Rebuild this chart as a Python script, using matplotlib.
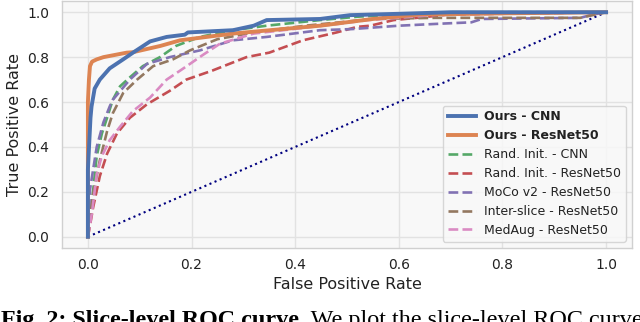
import matplotlib
matplotlib.use("Agg")
import matplotlib.pyplot as plt

# ---- data ----
labels = ["Ours - CNN", "Ours - ResNet50", "Rand. Init. - CNN", "Rand. Init. - ResNet50",
          "MoCo v2 - ResNet50", "Inter-slice - ResNet50", "MedAug - ResNet50"]

ours_cnn_fpr = [0, 0.0, 0.005, 0.007, 0.013, 0.023, 0.042, 0.068, 0.087, 0.12, 0.152, 0.187, 0.193, 0.28, 0.32, 0.345, 0.448, 0.506, 0.6, 0.7, 1.0]
ours_cnn_tpr = [0, 0.30, 0.53, 0.58, 0.66, 0.70, 0.75, 0.79, 0.82, 0.87, 0.89, 0.90, 0.91, 0.92, 0.94, 0.965, 0.97, 0.987, 0.993, 1.0, 1.0]

ours_r50_fpr = [0, 0.0, 0.002, 0.004, 0.008, 0.017, 0.03, 0.075, 0.087, 0.14, 0.178, 0.28, 0.448, 0.55, 0.64, 0.8, 1.0]
ours_r50_tpr = [0, 0.60, 0.70, 0.76, 0.78, 0.79, 0.80, 0.82, 0.822, 0.85, 0.875, 0.905, 0.94, 0.97, 0.99, 0.995, 1.0]

rand_cnn_fpr = [0, 0.003, 0.008, 0.017, 0.027, 0.037, 0.048, 0.062, 0.081, 0.106, 0.139, 0.17, 0.216, 0.28, 0.345, 0.448, 0.52, 0.6, 0.7, 1.0]
rand_cnn_tpr = [0, 0.06, 0.16, 0.36, 0.46, 0.53, 0.61, 0.67, 0.71, 0.76, 0.80, 0.85, 0.89, 0.92, 0.94, 0.965, 0.98, 0.99, 1.0, 1.0]

rand_r50_fpr = [0, 0.004, 0.01, 0.023, 0.037, 0.056, 0.081, 0.114, 0.158, 0.19, 0.24, 0.306, 0.35, 0.415, 0.48, 0.52, 0.545, 0.59, 0.7, 1.0]
rand_r50_tpr = [0, 0.05, 0.13, 0.27, 0.37, 0.46, 0.53, 0.59, 0.65, 0.70, 0.74, 0.80, 0.82, 0.875, 0.91, 0.935, 0.94, 0.965, 0.99, 1.0]

moco_fpr = [0, 0.004, 0.017, 0.03, 0.042, 0.048, 0.081, 0.114, 0.158, 0.216, 0.28, 0.345, 0.448, 0.51, 0.6, 0.69, 0.74, 0.76, 0.95, 0.975, 1.0]
moco_tpr = [0, 0.21, 0.40, 0.51, 0.58, 0.61, 0.70, 0.77, 0.80, 0.83, 0.875, 0.89, 0.92, 0.925, 0.94, 0.95, 0.955, 0.97, 0.975, 0.99, 1.0]

inter_fpr = [0, 0.004, 0.01, 0.023, 0.037, 0.048, 0.068, 0.095, 0.126, 0.164, 0.197, 0.25, 0.32, 0.42, 0.55, 0.67, 0.95, 0.98, 1.0]
inter_tpr = [0, 0.08, 0.19, 0.34, 0.47, 0.55, 0.64, 0.70, 0.76, 0.79, 0.83, 0.88, 0.91, 0.94, 0.97, 0.975, 0.975, 0.99, 1.0]

medaug_fpr = [0, 0.003, 0.008, 0.017, 0.027, 0.042, 0.062, 0.087, 0.12, 0.152, 0.178, 0.197, 0.222, 0.255, 0.32, 0.415, 0.49, 0.54, 0.68, 1.0]
medaug_tpr = [0, 0.04, 0.11, 0.28, 0.36, 0.43, 0.49, 0.56, 0.62, 0.70, 0.74, 0.77, 0.81, 0.86, 0.905, 0.93, 0.95, 0.965, 0.99, 1.0]

chance_fpr = [0, 1]
chance_tpr = [0, 1]

ticks = [0.0, 0.2, 0.4, 0.6, 0.8, 1.0]
tick_labels = ["0.0", "0.2", "0.4", "0.6", "0.8", "1.0"]

caption_bold = "Fig. 2: Slice-level ROC curve."
caption_rest = " We plot the slice-level ROC curve"

# ---- styling ----
colors = ["#4c72b0", "#dd8452", "#55a868", "#c44e52", "#8172b3", "#937860", "#da8bc3"]

fig = plt.figure(figsize=(6.4, 3.22), dpi=100)
ax = fig.add_axes([62/640, 1 - 248/322, 570/640, 247/322])
ax.set_facecolor("#f8f8f8")

series = [(ours_cnn_fpr, ours_cnn_tpr), (ours_r50_fpr, ours_r50_tpr),
          (rand_cnn_fpr, rand_cnn_tpr), (rand_r50_fpr, rand_r50_tpr),
          (moco_fpr, moco_tpr), (inter_fpr, inter_tpr), (medaug_fpr, medaug_tpr)]

ax.plot(chance_fpr, chance_tpr, color="navy", linestyle=":", lw=1.5, zorder=2)
for i, ((fx, ty), lab, c) in enumerate(zip(series, labels, colors)):
    if i < 2:
        ax.plot(fx, ty, color=c, lw=2.8, label=lab, zorder=4 - i * 0.1)
    else:
        ax.plot(fx, ty, color=c, lw=1.9, ls="--", label=lab, zorder=3)

ax.set_xlim(-0.05, 1.05)
ax.set_ylim(-0.05, 1.05)
ax.set_xticks(ticks)
ax.set_xticklabels(tick_labels)
ax.set_yticks(ticks)
ax.set_yticklabels(tick_labels)
ax.tick_params(labelsize=10, length=0, colors="#222222")
ax.tick_params(axis="y", pad=9)
ax.tick_params(axis="x", pad=7)
ax.grid(True, color="#e2e2e2", lw=1.0, zorder=0)
ax.set_axisbelow(True)
for s in ax.spines.values():
    s.set_color("#d0d0d0")
    s.set_linewidth(1.0)
ax.set_xlabel("False Positive Rate", fontsize=11.5, color="#222222", labelpad=4)
ax.set_ylabel("True Positive Rate", fontsize=11.5, color="#222222", labelpad=4)

leg = ax.legend(loc="lower right", fontsize=9, labelspacing=0.47, handlelength=2.3,
                handletextpad=0.6, borderaxespad=0.5, frameon=True, fancybox=True,
                framealpha=0.85, edgecolor="#d0d0d0", facecolor="#f8f8f8")
for t in leg.get_texts()[:2]:
    t.set_fontweight("bold")
for t in leg.get_texts():
    t.set_color("#222222")

# caption (partially cut at the bottom of the image, as in the reference)
base_y = -4.0 / 322
t1 = fig.text(0.0015, base_y, caption_bold, fontsize=17.4, fontweight="bold",
              family="Liberation Serif", va="baseline", ha="left")
fig.canvas.draw()
bb = t1.get_window_extent()
fig.text(bb.x1 / fig.bbox.width, base_y, caption_rest, fontsize=17.4,
         family="Liberation Serif", va="baseline", ha="left")

fig.savefig("out.png", dpi=100)
